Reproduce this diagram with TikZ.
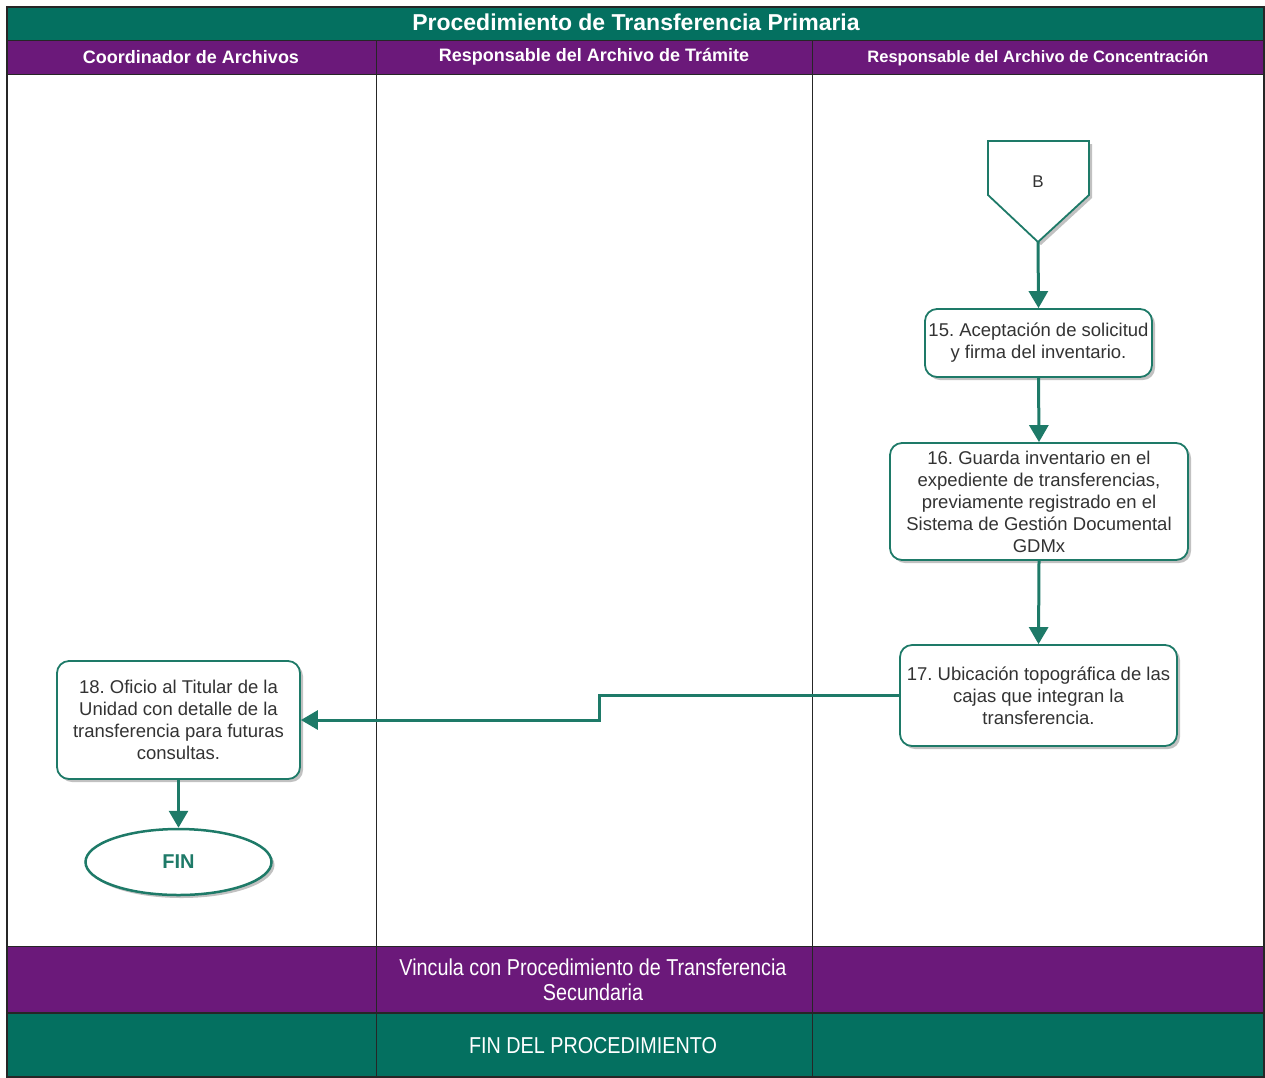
\documentclass[tikz,border=0pt]{standalone}
\usepackage{fontspec}
\setmainfont{Liberation Sans}
\newfontfamily\narrowfont[FakeStretch=0.86]{Liberation Sans}
\usetikzlibrary{arrows.meta,shadows,shapes.geometric}
\definecolor{verde}{RGB}{4,112,96}
\definecolor{morado}{RGB}{107,25,122}
\definecolor{trazo}{RGB}{30,122,104}
\definecolor{texto}{RGB}{51,51,51}
\frenchspacing

\begin{document}
\begin{tikzpicture}[x=1pt, y=-1pt, >={Triangle[length=17pt,width=19pt]},
    every node/.style={font=\fontsize{18.5}{22}\selectfont, text=texto},
    sombra/.style={drop shadow={shadow xshift=3pt, shadow yshift=-3pt, opacity=0.35, fill=black!70}},
    paso/.style={draw=trazo, line width=1.8pt, rounded corners=12pt, fill=white, align=center, sombra},
    flecha/.style={->, draw=trazo, line width=3pt},
    cabecera/.style={font=\fontsize{18}{22}\selectfont\bfseries, text=white}]

    \useasboundingbox (0,0) rectangle (1265,1077);

    % --- 1. Marco y carriles ---
    \fill[verde] (7,7) rectangle (1264,40);
    \fill[morado] (7,40) rectangle (1264,74);
    \fill[morado] (7,946) rectangle (1264,1013);
    \fill[verde] (7,1013) rectangle (1264,1077);
    \draw[line width=1.5pt, black!85] (7,7) rectangle (1264,1077);
    \draw[line width=1pt, black!85] (7,40) -- (1264,40);
    \draw[line width=1pt, black!85] (7,74) -- (1264,74);
    \draw[line width=1pt, black!85] (7,946) -- (1264,946);
    \draw[line width=1.5pt, black!85] (7,1013) -- (1264,1013);
    \draw[line width=1pt, black!85] (376,40) -- (376,1077);
    \draw[line width=1pt, black!85] (812,40) -- (812,1077);

    % --- 2. Encabezados ---
    \node[cabecera, font=\fontsize{23}{26}\selectfont\bfseries] (titulo) at (636,22) {Procedimiento de Transferencia Primaria};
    \node[cabecera] (coord) at (191,57) {Coordinador de Archivos};
    \node[cabecera] (tramite) at (594,57) {Responsable del Archivo de Trámite};
    \node[cabecera, font=\fontsize{16.5}{20}\selectfont\bfseries] (concen) at (1038,58) {Responsable del Archivo de Concentración};

    % --- 3. Conector B ---
    \draw[draw=trazo, line width=1.8pt, fill=white, sombra] (988,141) -- (1089,141) -- (1089,195) -- (1038,242) -- (988,195) -- cycle;
    \node[font=\fontsize{17}{20}\selectfont] (conB) at (1038,182) {B};
    \coordinate (puntaB) at (1038,242);

    % --- 4. Pasos ---
    \node[paso, minimum width=227pt, minimum height=68pt] (p15) at (1038.5,343) {15. Aceptación de solicitud\\y firma del inventario.};
    \node[paso, minimum width=298pt, minimum height=117pt] (p16) at (1039,501.5) {16. Guarda inventario en el\\expediente de transferencias,\\previamente registrado en el\\Sistema de Gestión Documental\\GDMx};
    \node[paso, minimum width=277pt, minimum height=101pt] (p17) at (1038.5,695.5) {17. Ubicación topográfica de las\\cajas que integran la\\transferencia.};
    \node[paso, minimum width=243pt, minimum height=118pt] (p18) at (178.5,720) {18. Oficio al Titular de la\\Unidad con detalle de la\\transferencia para futuras\\consultas.};
    \node[ellipse, draw=trazo, line width=2.5pt, fill=white, sombra, minimum width=186pt, minimum height=66pt,
          text=trazo, font=\fontsize{20}{24}\selectfont\bfseries] (fin) at (178.5,862) {FIN};

    % --- 5. Flechas ---
    \draw[flecha] (puntaB) -- (p15.north);
    \draw[flecha] (p15.south) -- (p16.north);
    \draw[flecha] (p16.south) -- (p17.north);
    \draw[flecha] (p17.west) -- ++(-300,0) |- (p18.east);
    \draw[flecha] (p18.south) -- (fin.north);

    % --- 6. Pie ---
    \node[text=white, align=center, font=\narrowfont\fontsize{23}{25}\selectfont] (vincula) at (593,980) {Vincula con Procedimiento de Transferencia\\Secundaria};
    \node[text=white, font=\narrowfont\fontsize{23}{26}\selectfont] (finproc) at (593,1046) {FIN DEL PROCEDIMIENTO};

\end{tikzpicture}
\end{document}
